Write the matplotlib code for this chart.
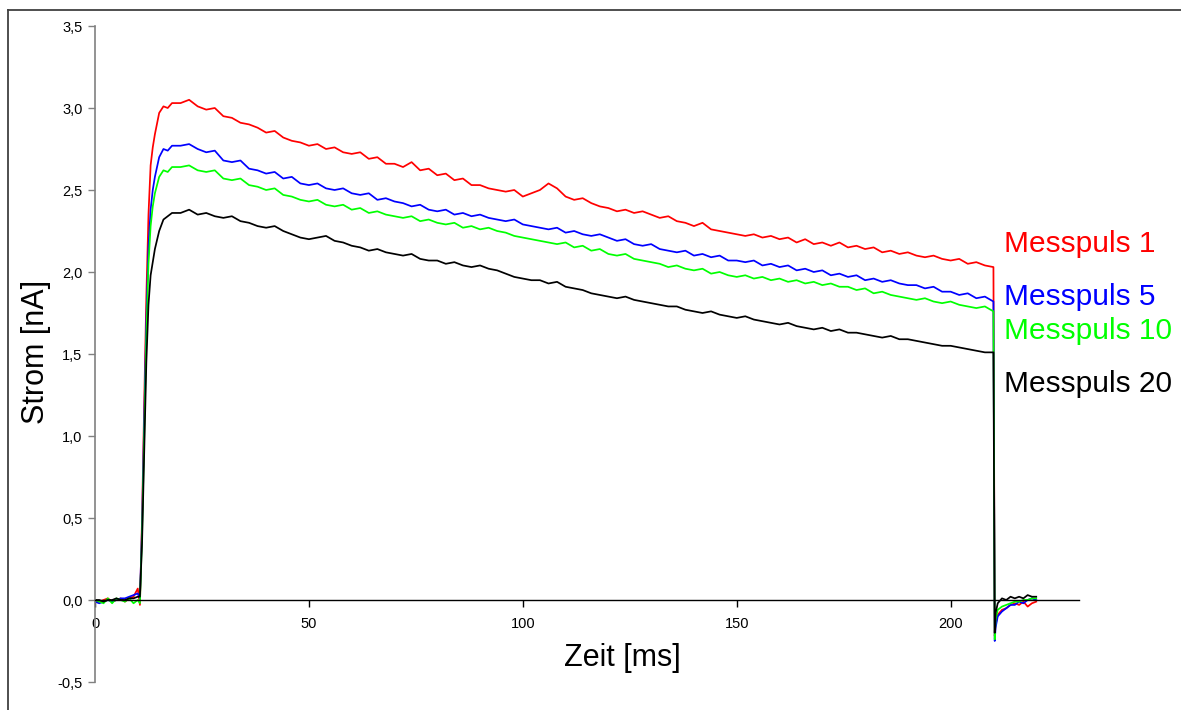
import numpy as np
import matplotlib.pyplot as plt
from matplotlib.lines import Line2D
from matplotlib.ticker import FuncFormatter

plt.rcParams["font.family"] = ["Liberation Sans", "DejaVu Sans"]

# sample times [ms]
t_pre = [0, 1, 2, 3, 4, 5, 6, 7, 8, 9, 10, 10.5]
t_rise = [11, 11.5, 12, 12.5, 13, 13.5, 14, 15, 16, 17, 18]
t_main = list(np.arange(20, 211, 2))
t_post = [210.3, 210.5, 211, 212, 213, 214, 215, 216, 217, 218, 219, 220]
zeit = np.array(t_pre + t_rise + t_main + t_post, dtype=float)

# Messpuls 1 (red)
red_pre = [0.00, -0.01, 0.00, 0.01, -0.01, 0.00, 0.01, -0.01, 0.01, 0.02, 0.07, -0.03]
red_rise = [0.50, 1.20, 1.85, 2.35, 2.65, 2.76, 2.84, 2.97, 3.01, 3.00, 3.03]
red_main = [3.03, 3.05, 3.01, 2.99, 3.00, 2.95, 2.94, 2.91, 2.90, 2.88,
            2.85, 2.86, 2.82, 2.80, 2.79, 2.77, 2.78, 2.75, 2.76, 2.73,
            2.72, 2.73, 2.69, 2.70, 2.66, 2.66, 2.64, 2.67, 2.62, 2.63,
            2.59, 2.60, 2.56, 2.57, 2.53, 2.53, 2.51, 2.50, 2.49, 2.50,
            2.46, 2.48, 2.50, 2.54, 2.51, 2.46, 2.44, 2.45, 2.42, 2.40,
            2.39, 2.37, 2.38, 2.36, 2.37, 2.35, 2.33, 2.34, 2.31, 2.30,
            2.28, 2.30, 2.26, 2.25, 2.24, 2.23, 2.22, 2.23, 2.21, 2.22,
            2.20, 2.21, 2.18, 2.20, 2.17, 2.18, 2.16, 2.18, 2.15, 2.16,
            2.14, 2.15, 2.12, 2.13, 2.11, 2.12, 2.10, 2.09, 2.10, 2.08,
            2.07, 2.08, 2.05, 2.06, 2.04, 2.03]
red_post = [-0.22, -0.15, -0.09, -0.06, -0.05, -0.03, -0.02, -0.03, -0.01, -0.04, -0.02, -0.01]

# Messpuls 5 (blue)
blue_pre = [-0.01, -0.02, -0.01, 0.00, -0.01, 0.00, 0.01, 0.01, 0.02, 0.03, 0.04, 0.01]
blue_rise = [0.45, 1.10, 1.70, 2.15, 2.38, 2.50, 2.58, 2.70, 2.75, 2.74, 2.77]
blue_main = [2.77, 2.78, 2.75, 2.73, 2.74, 2.68, 2.67, 2.68, 2.63, 2.62,
             2.60, 2.61, 2.57, 2.58, 2.54, 2.53, 2.54, 2.51, 2.50, 2.51,
             2.48, 2.47, 2.48, 2.44, 2.45, 2.43, 2.42, 2.40, 2.41, 2.38,
             2.37, 2.38, 2.35, 2.36, 2.34, 2.35, 2.33, 2.32, 2.31, 2.32,
             2.29, 2.28, 2.27, 2.26, 2.27, 2.24, 2.25, 2.23, 2.22, 2.23,
             2.21, 2.19, 2.20, 2.17, 2.16, 2.17, 2.14, 2.13, 2.12, 2.13,
             2.10, 2.11, 2.09, 2.10, 2.07, 2.07, 2.06, 2.07, 2.04, 2.05,
             2.03, 2.04, 2.01, 2.02, 2.00, 2.01, 1.98, 1.99, 1.97, 1.98,
             1.95, 1.96, 1.94, 1.95, 1.93, 1.92, 1.92, 1.90, 1.91, 1.88,
             1.88, 1.86, 1.87, 1.84, 1.85, 1.82]
blue_post = [-0.25, -0.17, -0.10, -0.07, -0.05, -0.03, -0.03, -0.01, -0.02, 0.00, 0.01, 0.00]

# Messpuls 10 (green)
green_pre = [0.00, -0.01, -0.02, 0.01, -0.02, 0.01, 0.00, -0.01, 0.01, -0.02, 0.00, -0.02]
green_rise = [0.40, 1.00, 1.60, 2.05, 2.28, 2.40, 2.48, 2.58, 2.62, 2.61, 2.64]
green_main = [2.64, 2.65, 2.62, 2.61, 2.62, 2.57, 2.56, 2.57, 2.53, 2.52,
              2.50, 2.51, 2.47, 2.46, 2.44, 2.43, 2.44, 2.41, 2.40, 2.41,
              2.38, 2.39, 2.36, 2.37, 2.35, 2.34, 2.33, 2.34, 2.31, 2.32,
              2.30, 2.29, 2.30, 2.27, 2.28, 2.26, 2.27, 2.25, 2.24, 2.22,
              2.21, 2.20, 2.19, 2.18, 2.17, 2.18, 2.15, 2.16, 2.13, 2.14,
              2.11, 2.10, 2.11, 2.08, 2.07, 2.06, 2.05, 2.03, 2.04, 2.02,
              2.01, 2.02, 1.99, 2.00, 1.98, 1.97, 1.98, 1.96, 1.97, 1.95,
              1.96, 1.94, 1.95, 1.93, 1.94, 1.92, 1.93, 1.91, 1.91, 1.89,
              1.90, 1.87, 1.88, 1.86, 1.85, 1.84, 1.83, 1.84, 1.82, 1.81,
              1.82, 1.80, 1.79, 1.78, 1.79, 1.76]
green_post = [-0.24, -0.12, -0.06, -0.04, -0.03, -0.02, -0.01, -0.01, 0.00, 0.00, 0.01, 0.01]

# Messpuls 20 (black)
black_pre = [0.00, 0.00, -0.01, 0.00, 0.00, 0.01, 0.00, 0.00, 0.01, 0.01, 0.02, 0.02]
black_rise = [0.35, 0.90, 1.45, 1.80, 1.98, 2.06, 2.14, 2.25, 2.32, 2.34, 2.36]
black_main = [2.36, 2.38, 2.35, 2.36, 2.34, 2.33, 2.34, 2.31, 2.30, 2.28,
              2.27, 2.28, 2.25, 2.23, 2.21, 2.20, 2.21, 2.22, 2.19, 2.18,
              2.16, 2.15, 2.13, 2.14, 2.12, 2.11, 2.10, 2.11, 2.08, 2.07,
              2.07, 2.05, 2.06, 2.04, 2.03, 2.04, 2.02, 2.01, 1.99, 1.97,
              1.96, 1.95, 1.95, 1.93, 1.94, 1.91, 1.90, 1.89, 1.87, 1.86,
              1.85, 1.84, 1.85, 1.83, 1.82, 1.81, 1.80, 1.79, 1.79, 1.77,
              1.76, 1.75, 1.76, 1.74, 1.73, 1.72, 1.73, 1.71, 1.70, 1.69,
              1.68, 1.69, 1.67, 1.66, 1.65, 1.66, 1.64, 1.65, 1.63, 1.63,
              1.62, 1.61, 1.60, 1.61, 1.59, 1.59, 1.58, 1.57, 1.56, 1.55,
              1.55, 1.54, 1.53, 1.52, 1.51, 1.51]
black_post = [-0.20, -0.08, -0.02, 0.01, 0.00, 0.02, 0.01, 0.02, 0.01, 0.03, 0.02, 0.02]

series = [
    ("Messpuls 1", "#ff0000", red_pre + red_rise + red_main + red_post),
    ("Messpuls 5", "#0000ff", blue_pre + blue_rise + blue_main + blue_post),
    ("Messpuls 10", "#00ff00", green_pre + green_rise + green_main + green_post),
    ("Messpuls 20", "#000000", black_pre + black_rise + black_main + black_post),
]
label_y = [244, 297, 331, 384]  # pixel rows of the labels

fig = plt.figure(figsize=(11.81, 7.10), dpi=100)
ax = fig.add_axes([95 / 1181, 28 / 710, 984 / 1181, 656 / 710])

for name, color, vals in series:
    ax.plot(zeit, vals, color=color, lw=1.25)

ax.set_xlim(0, 230)
ax.set_ylim(-0.5, 3.5)
ax.set_xticks([0, 50, 100, 150, 200])
ax.set_yticks(np.arange(-0.5, 3.51, 0.5))
comma = FuncFormatter(lambda v, p: f"{v:.1f}".replace(".", ","))
ax.yaxis.set_major_formatter(comma)

ax.spines["top"].set_visible(False)
ax.spines["right"].set_visible(False)
ax.spines["left"].set_color("#808080")
ax.spines["left"].set_linewidth(1.2)
ax.spines["bottom"].set_position(("data", 0))
ax.spines["bottom"].set_color("#000000")
ax.spines["bottom"].set_linewidth(1.0)
ax.tick_params(axis="y", direction="out", length=5, width=1, color="#808080",
               labelsize=10.5, pad=4)
ax.tick_params(axis="x", direction="out", length=5, width=1, color="#000000",
               labelsize=10.5, pad=7)

fig.text(622 / 1181, 1 - 658 / 710, "Zeit [ms]", fontsize=22, ha="center", va="center")
fig.text(36 / 1181, 1 - 352 / 710, "Strom [nA]", fontsize=22, ha="center", va="center",
         rotation=90)

for (name, color, vals), py in zip(series, label_y):
    fig.text(1004 / 1181, 1 - py / 710, name, color=color, fontsize=21.5,
             ha="left", va="center")

# frame around the chart
x0, y0 = 8 / 1181, 1 - 10 / 710
fig.add_artist(Line2D([x0, x0], [0, y0], transform=fig.transFigure, color="#404040", lw=1.3))
fig.add_artist(Line2D([x0, 1], [y0, y0], transform=fig.transFigure, color="#404040", lw=1.3))

fig.savefig("out.png", dpi=100)
